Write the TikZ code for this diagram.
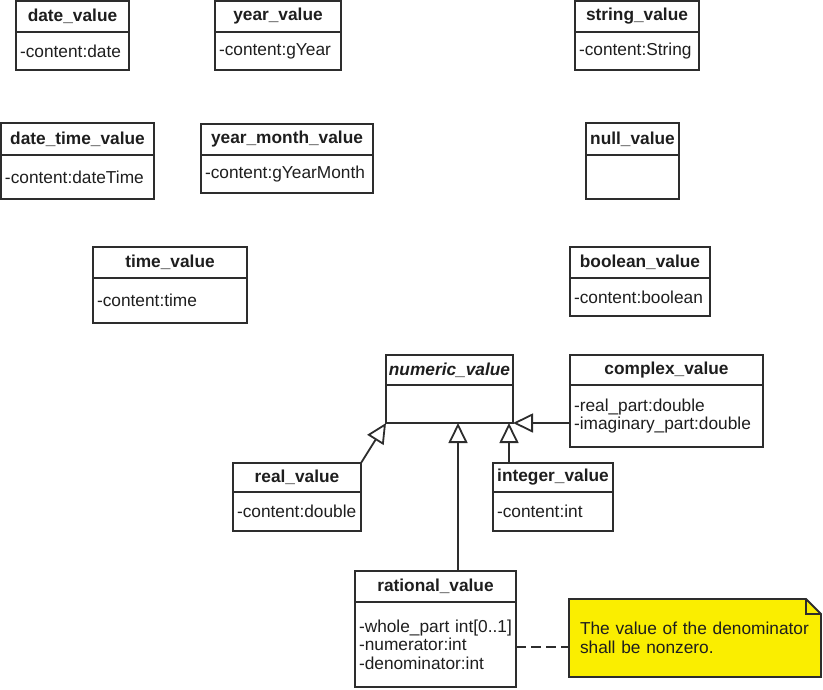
\documentclass[tikz,border=0pt]{standalone}
\usepackage{fontspec}
\setmainfont{Liberation Sans}
\usetikzlibrary{arrows.meta,backgrounds}
\definecolor{umlline}{RGB}{45,45,45}
\definecolor{umltext}{RGB}{30,30,30}
\definecolor{noteyellow}{RGB}{250,238,0}

\begin{document}
\begin{tikzpicture}[x=1pt,y=-1pt,
                font=\fontsize{17.3}{18.5}\selectfont,
                head/.style={draw=umlline, line width=1.8pt, text=umltext, anchor=north west,
                    minimum width=#1, inner sep=0pt, outer sep=0pt,
                    font=\fontsize{17.3}{18.5}\selectfont\bfseries},
                attr/.style={draw=umlline, line width=1.8pt, text=umltext, anchor=north,
                    text width=#1-8pt, inner xsep=4pt, inner ysep=0pt, outer sep=0pt, align=left,
                    execute at begin node={\exhyphenpenalty=10000\hyphenpenalty=10000}},
                inherit/.style={draw=umlline, line width=1.8pt, -{Triangle[open,length=20pt,width=19pt]}},
                notebox/.style={text=umltext, anchor=north west, minimum width=252pt, outer sep=0pt,
                    minimum height=78pt, text width=230pt, inner xsep=11pt, align=left}]
                \useasboundingbox (0,0) rectangle (823,689);
                \node[head=113pt, minimum height=31pt] (date) at (16,1) {date\_value};
                \node[attr=113pt, minimum height=38pt] (date-attr) at (date.south) {-content:date};
                \node[head=126pt, minimum height=31pt] (year) at (215,1) {year\_value};
                \node[attr=126pt, minimum height=38pt] (year-attr) at (year.south) {-content:gYear};
                \node[head=124pt, minimum height=31pt] (string) at (575,1) {string\_value};
                \node[attr=124pt, minimum height=38pt] (string-attr) at (string.south) {-content:String};
                \node[head=153pt, minimum height=32pt] (datetime) at (1,123) {date\_time\_value};
                \node[attr=153pt, minimum height=44pt] (datetime-attr) at (datetime.south) {-content:dateTime};
                \node[head=172pt, minimum height=31pt] (yearmonth) at (201,124) {year\_month\_value};
                \node[attr=172pt, minimum height=38pt] (yearmonth-attr) at (yearmonth.south) {-content:gYearMonth};
                \node[head=93pt, minimum height=32pt] (null) at (586,123) {null\_value};
                \node[attr=93pt, minimum height=44pt] (null-attr) at (null.south) {};
                \node[head=154pt, minimum height=31pt] (time) at (93,247) {time\_value};
                \node[attr=154pt, minimum height=45pt] (time-attr) at (time.south) {-content:time};
                \node[head=140pt, minimum height=31pt] (boolean) at (570,247) {boolean\_value};
                \node[attr=140pt, minimum height=38pt] (boolean-attr) at (boolean.south) {-content:boolean};
                \node[head=127pt, minimum height=30pt] (numeric) at (386,355) {\itshape numeric\_value};
                \node[attr=127pt, minimum height=38pt] (numeric-attr) at (numeric.south) {};
                \node[head=193pt, minimum height=30pt] (complex) at (570,355) {complex\_value};
                \node[attr=193pt, minimum height=62pt] (complex-attr) at (complex.south)
                    {-real\_part:double\\-imaginary\_part:double};
                \node[head=128pt, minimum height=29pt] (real) at (233,463) {real\_value};
                \node[attr=128pt, minimum height=39pt] (real-attr) at (real.south) {-content:double};
                \node[head=120pt, minimum height=29pt] (integer) at (493,463) {integer\_value};
                \node[attr=120pt, minimum height=39pt] (integer-attr) at (integer.south) {-content:int};
                \node[head=161pt, minimum height=31pt] (rational) at (355,571) {rational\_value};
                \node[attr=161pt, minimum height=85pt] (rational-attr) at (rational.south)
                    {-whole\_part~int[0..1]\\-numerator:int\\-denominator:int};
                \node[notebox] (note) at (569,599) {The value of the denominator\\shall be nonzero.};
                \begin{scope}[on background layer]
                    \draw[draw=umlline, line width=1.8pt, fill=noteyellow] (note.north west)
                        -- ([xshift=-15pt]note.north east) -- ([yshift=-15pt]note.north east)
                        -- (note.south east) -- (note.south west) -- cycle;
                \end{scope}
                \draw[draw=umlline, line width=1.8pt] ([xshift=-15pt]note.north east)
                    -- ([xshift=-15pt,yshift=-15pt]note.north east) -- ([yshift=-15pt]note.north east);
                \coordinate (rational-top) at ([xshift=103pt]rational.north west);
                \coordinate (integer-top) at ([xshift=16pt]integer.north west);
                \coordinate (rational-right) at ([yshift=-2.5pt]rational-attr.east);
                \draw[inherit] (real.north east) -- (numeric-attr.south west);
                \draw[inherit] (rational-top) -- (rational-top |- numeric-attr.south);
                \draw[inherit] (integer-top) -- (integer-top |- numeric-attr.south);
                \draw[inherit] (complex-attr.west |- numeric-attr.south) -- (numeric-attr.south east);
                \draw[draw=umlline, line width=2pt, dash pattern=on 10pt off 5pt]
                    (rational-right) -- (rational-right -| note.west);
            \end{tikzpicture}
\end{document}
